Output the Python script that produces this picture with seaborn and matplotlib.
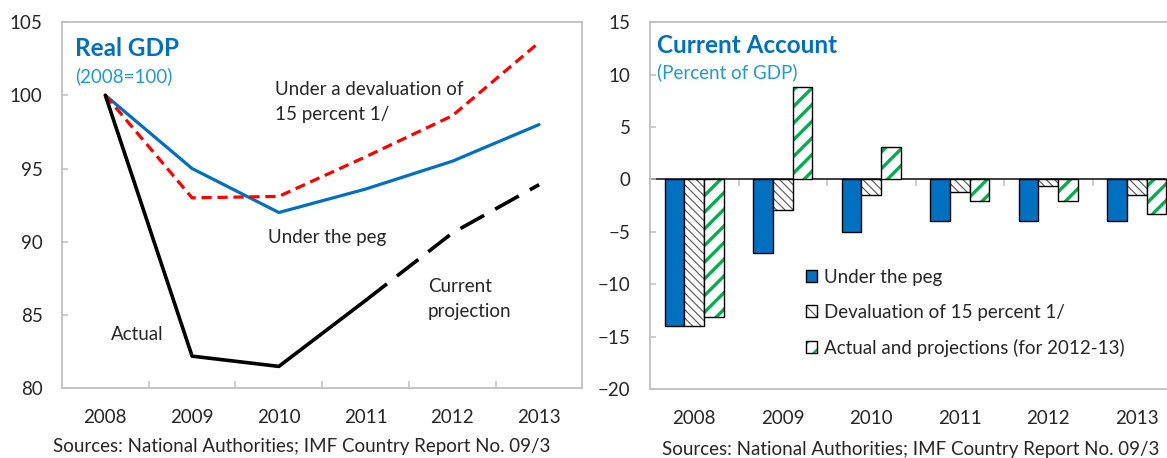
import matplotlib
matplotlib.use("Agg")
import matplotlib.pyplot as plt
import matplotlib.colors as mcolors
import numpy as np
import pandas as pd
import seaborn as sns

# data
years = [2008, 2009, 2010, 2011, 2012, 2013]
gdp_peg = [100, 95.0, 92.0, 93.6, 95.5, 98.0]
gdp_deval = [100, 93.0, 93.1, 95.8, 98.6, 103.6]
actual_years = [2008, 2009, 2010, 2011]
gdp_actual = [100, 82.2, 81.5, 86.0]
proj_years = [2011, 2012, 2013]
gdp_proj = [86.0, 90.6, 93.9]

ca_series = ["Under the peg", "Devaluation of 15 percent 1/", "Actual and projections (for 2012-13)"]
ca_peg = [-14.0, -7.0, -5.0, -4.0, -4.0, -4.0]
ca_deval = [-14.0, -2.9, -1.5, -1.2, -0.6, -1.5]
ca_actual = [-13.1, 8.8, 3.1, -2.1, -2.1, -3.3]

source_note = "Sources: National Authorities; IMF Country Report No. 09/3"

BLUE = "#0070c0"
LIGHT_BLUE = "#1f9ad6"
RED = "#ff0000"
GREEN = "#00b050"
GRID_GRAY = "#bfbfbf"
FONT = 13.5

sns.set_theme(style="white")
plt.rcParams["font.family"] = ["Lato", "DejaVu Sans"]

fig = plt.figure(figsize=(11.67, 4.58), dpi=100)
ax1 = fig.add_axes([0.0531, 0.152, 0.446, 0.800])
ax2 = fig.add_axes([0.557, 0.1507, 0.455, 0.801])


def style_frame(ax):
    for side in ["left", "right", "top", "bottom"]:
        ax.spines[side].set_color(GRID_GRAY)
        ax.spines[side].set_linewidth(1.3)
    ax.tick_params(axis="y", which="major", direction="in", length=4.5, width=1.1,
                   color=GRID_GRAY, labelsize=FONT, pad=14, left=True)
    ax.tick_params(axis="x", which="major", length=0, labelsize=FONT, pad=15)


def apply_hatch(p, hs):
    # matplotlib 3.10 ties hatch colour to the edge, so set it directly
    p.set_hatch(hs[0])
    p._hatch_color = mcolors.to_rgba(hs[1])
    if hasattr(p, "set_hatch_linewidth"):
        p.set_hatch_linewidth(hs[2])
    p._hatch_linewidth = hs[2]


# ---- left panel: real GDP ----
sns.lineplot(x=years, y=gdp_peg, ax=ax1, color=BLUE, lw=2.3)
sns.lineplot(x=years, y=gdp_deval, ax=ax1, color=RED, lw=2.3, dashes=False)
ax1.lines[-1].set_dashes((3.2, 1.8))
sns.lineplot(x=actual_years, y=gdp_actual, ax=ax1, color="black", lw=2.6)
sns.lineplot(x=proj_years, y=gdp_proj, ax=ax1, color="black", lw=2.6)
ax1.lines[-1].set_dashes((7.5, 3.5))

ax1.set_xlim(2007.5, 2013.5)
ax1.set_ylim(80, 105)
ax1.set_yticks(np.arange(80, 106, 5))
ax1.set_xticks(years)
ax1.set_xticks(np.array(years[:-1]) + 0.5, minor=True)
style_frame(ax1)
ax1.tick_params(axis="x", which="minor", direction="in", length=5, width=1.1,
                color=GRID_GRAY, bottom=True)

ax1.text(0.025, 0.928, "Real GDP", transform=ax1.transAxes, color=BLUE,
         fontsize=17.5, fontweight="bold", va="center")
ax1.text(0.025, 0.851, "(2008=100)", transform=ax1.transAxes, color=LIGHT_BLUE,
         fontsize=FONT, va="center")
ax1.text(2009.96, 100.41, "Under a devaluation of", fontsize=FONT, va="center")
ax1.text(2009.96, 98.72, "15 percent 1/", fontsize=FONT, va="center")
ax1.text(2009.87, 90.3, "Under the peg", fontsize=FONT, va="center")
ax1.text(2011.72, 86.93, "Current", fontsize=FONT, va="center")
ax1.text(2011.72, 85.23, "projection", fontsize=FONT, va="center")
ax1.text(2008.07, 83.68, "Actual", fontsize=FONT, va="center")

# ---- right panel: current account ----
df = pd.DataFrame({
    "year": [str(y) for y in years] * 3,
    "value": ca_peg + ca_deval + ca_actual,
    "series": np.repeat(ca_series, len(years)),
})
sns.barplot(data=df, x="year", y="value", hue="series", hue_order=ca_series,
            palette=[BLUE, "white", "white"], width=0.663, ax=ax2,
            edgecolor="black", linewidth=1.0, saturation=1, legend=False)

hatch_style = [None, ("\\\\\\\\", "#555555", 0.8), ("//", GREEN, 2.4)]
for cont, hs in zip(ax2.containers, hatch_style):
    if hs is None:
        continue
    for p in cont.patches:
        apply_hatch(p, hs)

ax2.set_xlim(-0.5, 5.5)
ax2.set_ylim(-20, 15)
ax2.set_yticks(np.arange(-20, 16, 5))
ax2.set_xlabel("")
ax2.set_ylabel("")
style_frame(ax2)

# category axis crosses at zero
zero_axis = ax2.secondary_xaxis(20 / 35)
zero_axis.spines["bottom"].set_color(GRID_GRAY)
zero_axis.spines["bottom"].set_linewidth(1.3)
zero_axis.set_xticks(np.arange(0.5, 5, 1))
zero_axis.set_xticklabels([])
zero_axis.tick_params(direction="in", length=5, width=1.1, color=GRID_GRAY,
                      labelbottom=False, labeltop=False)

handles = [c.patches[0] for c in ax2.containers]
leg = ax2.legend(handles, ca_series, loc="upper left", bbox_to_anchor=(0.294, 0.327),
                 frameon=False, fontsize=FONT, handlelength=0.6, handleheight=0.6,
                 handletextpad=0.35, labelspacing=0.95, borderaxespad=0, borderpad=0)
for h, hs in zip(leg.legend_handles, hatch_style):
    if hs is not None:
        apply_hatch(h, (hs[0][:2], hs[1], min(hs[2], 1.6)))

ax2.text(0.013, 0.937, "Current Account", transform=ax2.transAxes, color=BLUE,
         fontsize=17.5, fontweight="bold", va="center")
ax2.text(0.013, 0.864, "(Percent of GDP)", transform=ax2.transAxes, color=LIGHT_BLUE,
         fontsize=FONT, va="center")

fig.text(0.0454, 0.0247, source_note, fontsize=FONT, va="center")
fig.text(0.567, 0.0175, source_note, fontsize=FONT, va="center")

fig.savefig("out.png", dpi=100)
